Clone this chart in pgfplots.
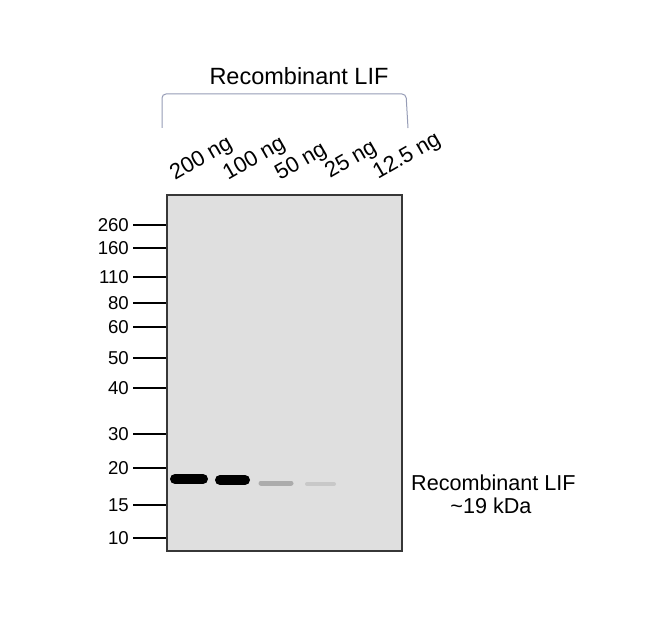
\documentclass[border=0pt]{standalone}
\usepackage{pgfplots}
\pgfplotsset{compat=1.18}
\usepackage{fontspec}
\setmainfont{Liberation Sans}

\definecolor{blotbg}{RGB}{223,223,223}
\definecolor{boxline}{RGB}{55,55,55}
\definecolor{bracecol}{RGB}{150,156,182}
\definecolor{band3}{RGB}{172,172,172}
\definecolor{band4}{RGB}{200,200,200}

\tikzset{
    band/.style = {line width=10pt, line cap=round},
    lane/.style = {anchor=base west, rotate=30, inner sep=0pt,
                   font=\fontsize{22}{24}\selectfont},
}

\begin{document}
\begin{tikzpicture}
    \path[fill=white] (0,0) rectangle (650pt,640pt);
    \begin{axis}[
        at={(167pt,445pt)}, anchor=north west,
        scale only axis,
        width=235pt, height=356pt,
        xmin=167, xmax=402,
        ymin=195, ymax=551,
        y dir=reverse,
        clip=false,
        axis background/.style={fill=blotbg},
        axis line style={boxline, line width=1.5pt},
        xtick=\empty,
        ytick={225,248,277,303,327,358,388,434,468,505,538},
        yticklabels={260,160,110,80,60,50,40,30,20,15,10},
        ytick pos=left,
        tick align=outside,
        major tick length=34pt,
        ytick style={black, line width=2.6pt},
        /pgf/number format/assume math mode=true,
        yticklabel style={font=\fontsize{18.6}{20}\selectfont, inner sep=1pt, xshift=-3pt},
        ]
        % bands, 200 ng to 25 ng (12.5 ng shows nothing)
        \addplot[band, black] coordinates {(175,479) (203,479)};
        \addplot[band, black] coordinates {(220,480) (245,480)};
        \addplot[band, band3, line width=5pt] coordinates {(261,483) (291,483)};
        \addplot[band, band4, line width=4pt] coordinates {(307,484) (334,484)};

        % lane labels
        \node[lane] at (axis cs:175,181) {200 ng};
        \node[lane] at (axis cs:228,181) {100 ng};
        \node[lane] at (axis cs:280,181) {50 ng};
        \node[lane] at (axis cs:330,179) {25 ng};
        \node[lane] at (axis cs:378,180) {12.5 ng};

        % bracket and group title
        \draw[bracecol, line width=1pt, rounded corners=4pt]
            (axis cs:162,128) -- (axis cs:162,94) -- (axis cs:406,94) -- (axis cs:408,128);
        \node[font=\fontsize{23.5}{26}\selectfont] at (axis cs:299,76) {Recombinant LIF};

        % band annotation
        \node[anchor=west, inner sep=0pt, font=\fontsize{21.6}{24}\selectfont]
            at (axis cs:411,483) {Recombinant LIF};
        \node[font=\fontsize{21.6}{24}\selectfont] at (axis cs:491,506) {\textasciitilde19 kDa};
    \end{axis}
\end{tikzpicture}
\end{document}
